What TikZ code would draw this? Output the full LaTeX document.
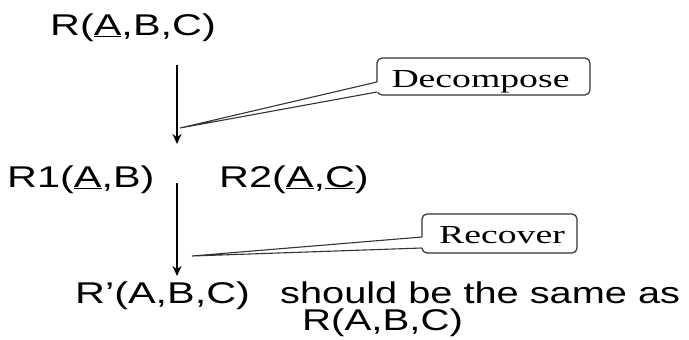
\documentclass[tikz,border=0pt]{standalone}
\usepackage{fontspec}
\setmainfont{Liberation Sans}
\newfontfamily\timesfont{Liberation Serif}
\usetikzlibrary{arrows.meta}
\newcommand{\ariel}[2][1.38]{\scalebox{#1}[1]{\fontsize{30}{33}\selectfont #2}}
\newcommand{\tms}[1]{\scalebox{1.45}[1]{\timesfont\fontsize{26}{30}\selectfont #1}}
\tikzset{
  lbl/.style={inner sep=0pt, anchor=base west},
  clbl/.style={inner sep=0pt, anchor=base},
  flowarrow/.style={line width=2.6pt, -{Stealth[length=10pt,width=9pt]}},
  callbox/.style={draw=black!80, line width=1.2pt, rounded corners=5pt, inner sep=0pt},
  pointer/.style={draw=black!80, line width=1.1pt}
}
\begin{document}
\begin{tikzpicture}[x=1pt,y=-1pt]
\useasboundingbox (0,0) rectangle (689,340);
% texts
\node[lbl] (t1) at (50,35) {\ariel{R(\underline{A},B,C)}};
\node[lbl] (r1) at (7,187) {\ariel{R1(\underline{A},B)}};
\node[lbl] (r2) at (219,187) {\ariel{R2(\underline{A},\underline{C})}};
\node[lbl] (rp) at (75,303) {\ariel{R'(A,B,C)}};
\node[lbl] (should) at (280,303) {\ariel[1.325]{should be the same as}};
\node[lbl] (t2) at (302,330) {\ariel[1.34]{R(A,B,C)}};
% arrows
\coordinate (a1s) at (177,65);
\coordinate (a1e) at (177,144);
\coordinate (a2s) at (177,183);
\coordinate (a2e) at (177,276);
\draw[flowarrow] (a1s) -- (a1e);
\draw[flowarrow] (a2s) -- (a2e);
% callout boxes
\node[callbox, minimum width=213pt, minimum height=37pt] (dbox) at (483.5,76.5) {};
\node[clbl] (dtext) at (480.5,87.5) {\tms{Decompose}};
\node[callbox, minimum width=155pt, minimum height=39pt] (rbox) at (499.5,233.5) {};
\node[clbl] (rtext) at (502,243.5) {\tms{Recover}};
% pointers
\coordinate (dtip) at (180,128);
\coordinate (dp1) at (377,82);
\coordinate (dp2) at (377,92);
\fill[white] (dtip) -- (dp1) -- ([xshift=2pt]dp1) -- ([xshift=2pt]dp2) -- (dp2) -- cycle;
\draw[pointer] (dp1) -- (dtip) -- (dp2);
\coordinate (rtip) at (192,256);
\coordinate (rp1) at (422,237);
\coordinate (rp2) at (422,248);
\fill[white] (rtip) -- (rp1) -- ([xshift=2pt]rp1) -- ([xshift=2pt]rp2) -- (rp2) -- cycle;
\draw[pointer] (rp1) -- (rtip) -- (rp2);
\end{tikzpicture}
\end{document}
